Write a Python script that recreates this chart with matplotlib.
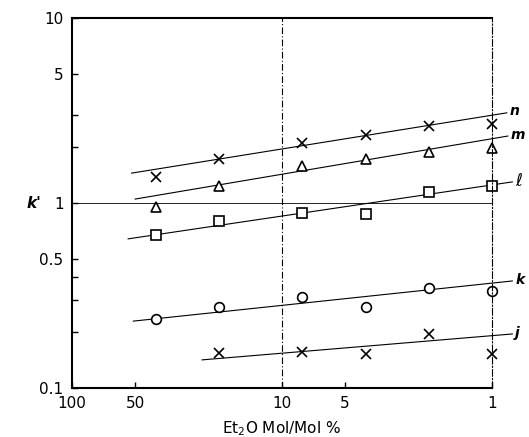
import matplotlib.pyplot as plt
import numpy as np

# Et2O concentration (mol/mol %)
conc = [40, 20, 8, 4, 2, 1]

k_n = [1.38, 1.73, 2.11, 2.33, 2.61, 2.67]
k_m = [0.95, 1.24, 1.58, 1.73, 1.89, 1.98]
k_l = [0.67, 0.80, 0.88, 0.87, 1.15, 1.24]
k_k = [0.236, 0.274, 0.31, 0.274, 0.347, 0.334]
conc_j = [20, 8, 4, 2, 1]
k_j = [0.155, 0.156, 0.153, 0.196, 0.153]

# fitted lines: (x start, x end), (y start, y end)
fit_x = {'n': (52, 0.85), 'm': (50, 0.84), 'l': (54, 0.80), 'k': (51, 0.80), 'j': (24, 0.80)}
fit_y = {'n': (1.45, 3.07), 'm': (1.05, 2.30), 'l': (0.64, 1.30), 'k': (0.23, 0.379), 'j': (0.142, 0.196)}
label_text = {'n': 'n', 'm': 'm', 'l': r'$\ell$', 'k': 'k', 'j': 'j'}

fig = plt.figure(figsize=(5.29, 4.37), dpi=100)
ax = fig.add_axes([0.136, 0.112, 0.794, 0.847])
ax.set_xscale('log')
ax.set_yscale('log')
ax.set_xlim(100, 1)
ax.set_ylim(0.1, 10)

ax.axvline(10, color='black', lw=0.8, ls=(0, (6, 2, 1, 2)))
ax.axhline(1, color='black', lw=0.6)

for key in ['n', 'm', 'l', 'k', 'j']:
    ax.plot(fit_x[key], fit_y[key], color='black', lw=0.8, clip_on=False)
    fs = 12 if key == 'l' else 10
    ax.annotate(label_text[key], (fit_x[key][1], fit_y[key][1]), xytext=(2, 1),
                textcoords='offset points', fontsize=fs, style='italic',
                fontweight='bold', va='center', ha='left', annotation_clip=False)

ms = 7
ax.plot(conc, k_n, 'x', color='black', ms=ms, mew=1.2, clip_on=False)
ax.plot(conc, k_m, '^', mfc='white', mec='black', ms=ms, mew=1.2, clip_on=False)
ax.plot(conc, k_l, 's', mfc='white', mec='black', ms=ms, mew=1.2, clip_on=False)
ax.plot(conc, k_k, 'o', mfc='white', mec='black', ms=ms, mew=1.2, clip_on=False)
ax.plot(conc_j, k_j, 'x', color='black', ms=ms, mew=1.2, clip_on=False)

ax.set_xticks([100, 50, 10, 5, 1])
ax.set_xticklabels(['100', '50', '10', '5', '1'])
ax.set_xticks([], minor=True)
ax.set_yticks([10, 5, 3, 2, 1, 0.5, 0.4, 0.3, 0.2, 0.1])
ax.set_yticklabels(['10', '5', '', '', '1', '0.5', '', '', '', '0.1'])
ax.set_yticks([], minor=True)
ax.tick_params(direction='in', length=4, width=1, labelsize=11)
ax.tick_params(axis='x', pad=6)
ax.tick_params(axis='y', pad=6)

for s in ['left', 'bottom', 'top']:
    ax.spines[s].set_linewidth(1.5)
ax.spines['right'].set_linewidth(0.8)
ax.spines['right'].set_linestyle((0, (6, 2, 1, 2)))

ax.set_xlabel(r'Et$_2$O Mol/Mol %', fontsize=11, labelpad=6)
fig.text(0.05, 0.535, "k'", fontsize=11, style='italic', fontweight='bold', va='center')

fig.savefig('out.png', dpi=100)
